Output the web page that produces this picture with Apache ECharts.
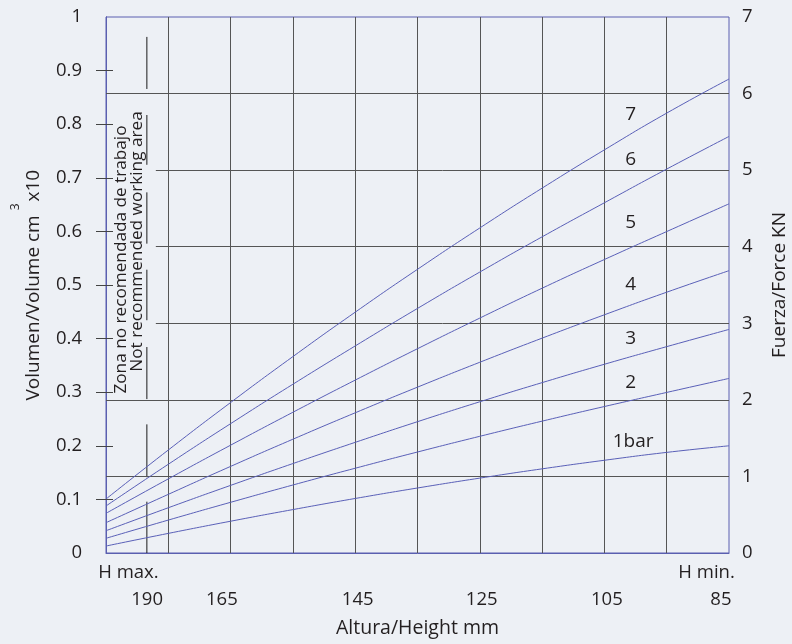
<!DOCTYPE html>
<html><head><meta charset="utf-8">
<script src="https://cdn.jsdelivr.net/npm/echarts@6/dist/echarts.min.js"></script>
<style>html,body{margin:0;padding:0;background:#edf0f5}#c{width:792px;height:644px}</style>
</head><body><div id="c"></div>
<script>
// grid steps between H max. (0) and H min. (10)
const steps = [0,1,2,3,4,5,6,7,8,9,10];
const pressureNames = ['1bar','2','3','4','5','6','7'];
// force (kN) read at each step
const force1bar = [0.091,0.256,0.415,0.567,0.712,0.849,0.978,1.099,1.211,1.314,1.40];
const force2bar = [0.192,0.430,0.662,0.888,1.107,1.319,1.524,1.722,1.913,2.097,2.28];
const force3bar = [0.291,0.591,0.883,1.168,1.445,1.715,1.975,2.225,2.465,2.695,2.92];
const force4bar = [0.396,0.766,1.131,1.486,1.831,2.166,2.491,2.806,3.111,3.406,3.687];
const force5bar = [0.518,0.968,1.408,1.838,2.258,2.668,3.068,3.458,3.833,4.198,4.56];
const force6bar = [0.614,1.159,1.689,2.204,2.704,3.194,3.669,4.129,4.574,5.014,5.44];
const force7bar = [0.705,1.345,1.965,2.565,3.145,3.705,4.245,4.765,5.265,5.745,6.19];
const heightLabels = ['190','165','145','125','105','85'];
const heightLabelSteps = [0.66,1.86,4.04,6.03,8.04,9.87];
const endLabels = ['H max.','H min.'];
const endLabelSteps = [0.36,9.64];
const volumeTicks = [0.1,0.2,0.3,0.4,0.5,0.6,0.7,0.8,0.9];
const forceGridValues = [1,2,3,4,5,6];
const forceGridStarts = [0,0,0.8,0.8,0.8,0];
const zoneStep = 0.656;
const zoneSegments = [[6.74,6.06],[5.72,5.07],[4.71,4.04],[3.70,3.04],[2.69,2.01],[1.68,0.99],[0.67,0]];
const labelSteps = [8.46,8.42,8.42,8.42,8.42,8.42,8.42];
const labelForces = [1.46,2.22,2.80,3.50,4.31,5.14,5.72];

const forces = [force1bar,force2bar,force3bar,force4bar,force5bar,force6bar,force7bar];
const FONT = 'Open Sans';
const TXT = '#231f20';
const BLUE = '#5a5fb0';
const GRIDC = '#555';

const chart = echarts.init(document.getElementById('c'), null, {renderer:'canvas'});

const pressureSeries = forces.map((arr, k) => ({
  type:'line', name: pressureNames[k], xAxisIndex:0, yAxisIndex:1,
  data: steps.map((u,i)=>[u, arr[i]]),
  showSymbol:false, smooth:true, silent:true, z:5,
  lineStyle:{color:'#5a60b8', width:1},
  markPoint:{
    symbol:'circle', symbolSize:0, silent:true, animation:false,
    label:{show:true, position:'inside', formatter: pressureNames[k], color:TXT, fontFamily:FONT, fontSize:19},
    data:[{coord:[labelSteps[k], labelForces[k]]}]
  }
}));

const gridSeries = {
  type:'line', xAxisIndex:0, yAxisIndex:1, data:[[0,0]], showSymbol:false, silent:true, z:2,
  lineStyle:{width:0},
  markLine:{
    silent:true, symbol:['none','none'], animation:false,
    label:{show:false},
    lineStyle:{color:GRIDC, width:1, type:'solid'},
    data: steps.slice(1,10).map(u=>({xAxis:u}))
      .concat(forceGridValues.map((f,i)=>[{coord:[forceGridStarts[i], f]},{coord:[10, f]}]))
  }
};

const zoneData = [];
zoneSegments.forEach(s=>{ zoneData.push([zoneStep, s[0]]); zoneData.push([zoneStep, s[1]]); zoneData.push([zoneStep, null]); });
const zoneSeries = {
  type:'line', xAxisIndex:0, yAxisIndex:1, data: zoneData, showSymbol:false, silent:true, z:3,
  connectNulls:false, lineStyle:{color:'#1a1a1a', width:1}
};

const option = {
  backgroundColor:'#edf0f5',
  animation:false,
  textStyle:{fontFamily:FONT},
  grid:{left:106, right:63, top:17, bottom:91, show:true, borderColor:BLUE, borderWidth:1, backgroundColor:'transparent', outerBoundsMode:'none'},
  xAxis:[
    {type:'value', min:0, max:10, interval:1, position:'bottom',
     axisLine:{show:true, lineStyle:{color:BLUE, width:1}}, axisTick:{show:false}, axisLabel:{show:false}, splitLine:{show:false}},
    {type:'value', min:0, max:10, interval:1, position:'bottom',
     axisLine:{show:false}, axisTick:{show:false}, splitLine:{show:false},
     name:'Altura/Height mm', nameLocation:'middle', nameGap:65,
     nameTextStyle:{color:TXT, fontFamily:FONT, fontSize:19.5},
     axisLabel:{show:true, customValues:heightLabelSteps, formatter:(v,i)=>heightLabels[heightLabelSteps.indexOf(v)], margin:37, color:TXT, fontFamily:FONT, fontSize:18.5}},
    {type:'value', min:0, max:10, interval:1, position:'bottom',
     axisLine:{show:false}, axisTick:{show:false}, splitLine:{show:false},
     axisLabel:{show:true, customValues:endLabelSteps, formatter:(v)=>endLabels[endLabelSteps.indexOf(v)], margin:10, color:TXT, fontFamily:FONT, fontSize:18.5}}
  ],
  yAxis:[
    {type:'value', min:0, max:1, interval:0.1, position:'left',
     axisLine:{show:true, lineStyle:{color:BLUE, width:1}},
     axisTick:{show:true, length:10, customValues:volumeTicks, lineStyle:{color:'#444', width:1}},
     splitLine:{show:false},
     axisLabel:{show:true, margin:24, color:TXT, fontFamily:FONT, fontSize:18.5, formatter:(v)=>String(Math.round(v*10)/10)},
     name:'{a|Volumen/Volume cm}{s|3}{a|x10}{h| }', nameLocation:'middle', nameGap:63, nameRotate:90,
     nameTextStyle:{color:TXT, fontFamily:FONT, fontSize:19,
       rich:{a:{fontFamily:FONT, fontSize:19, color:TXT, lineHeight:20, verticalAlign:'bottom'},
             s:{fontFamily:FONT, fontSize:12, color:TXT, lineHeight:14, verticalAlign:'top', padding:[0,2,0,5]},
             h:{fontSize:1, lineHeight:33}}}},
    {type:'value', min:0, max:7, interval:1, position:'right',
     axisLine:{show:true, lineStyle:{color:BLUE, width:1}},
     axisTick:{show:false}, splitLine:{show:false},
     axisLabel:{show:true, margin:13, color:TXT, fontFamily:FONT, fontSize:18.5},
     name:'Fuerza/Force KN', nameLocation:'middle', nameGap:41, nameRotate:90,
     nameTextStyle:{color:TXT, fontFamily:FONT, fontSize:19}},
    {type:'value', min:0, max:1, interval:0.1, position:'left',
     axisLine:{show:false}, splitLine:{show:false}, axisLabel:{show:false},
     axisTick:{show:true, inside:true, length:7, customValues:volumeTicks, lineStyle:{color:'#444', width:1}}}
  ],
  graphic:[
    {type:'text', x:121, y:259.5, rotation:Math.PI/2, silent:true,
     style:{text:'Zona no recomendada de trabajo', fill:TXT, font:'17.2px "Open Sans"', align:'center', verticalAlign:'middle'}},
    {type:'text', x:137.5, y:241.5, rotation:Math.PI/2, silent:true,
     style:{text:'Not recommended working area', fill:TXT, font:'17.2px "Open Sans"', align:'center', verticalAlign:'middle'}}
  ],
  series:[gridSeries, zoneSeries].concat(pressureSeries)
};
chart.setOption(option);
</script></body></html>
